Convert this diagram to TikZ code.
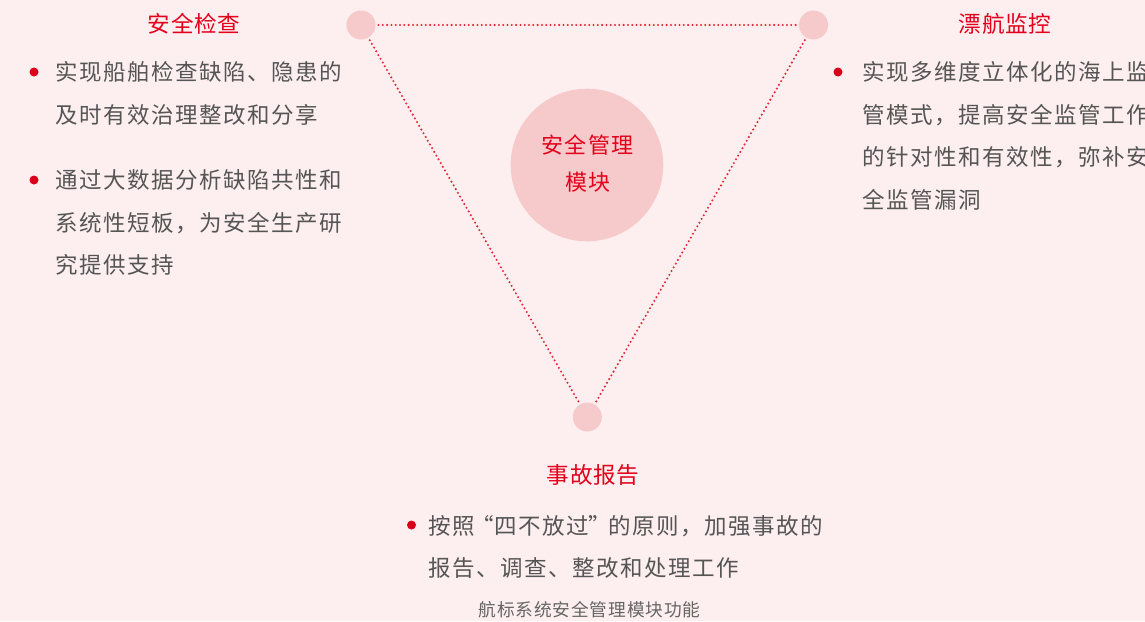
\documentclass[tikz,border=0pt]{standalone}
\usepackage{fontspec}
\setmainfont{Noto Sans CJK SC}
\newfontfamily\cjkbody[LetterSpace=6.7]{Noto Sans CJK SC}
\newfontfamily\cjktitle[LetterSpace=3]{Noto Sans CJK SC}
\newfontfamily\cjkcap[LetterSpace=5]{Noto Sans CJK SC}
\definecolor{bg}{HTML}{FDEEF0}
\definecolor{knotpink}{HTML}{F6CACA}
\definecolor{ttlred}{HTML}{E3001B}
\definecolor{bulred}{HTML}{D9001B}
\definecolor{linkred}{HTML}{E32A36}
\definecolor{txtgray}{HTML}{555555}
\definecolor{capgray}{HTML}{656565}
\tikzset{
  body/.style={font=\cjkbody\fontsize{22.5}{26}\selectfont, text=txtgray, anchor=base west, inner sep=0pt},
  ttl/.style={font=\cjktitle\fontsize{22.6}{26}\selectfont, text=ttlred, anchor=base, inner sep=0pt},
  hub/.style={font=\cjkbody\fontsize{22}{26}\selectfont, text=ttlred, anchor=base, inner sep=0pt},
  captxt/.style={font=\cjkcap\fontsize{17.7}{20}\selectfont, text=capgray, anchor=base, inner sep=0pt},
  bul/.style={circle, fill=bulred, minimum size=9pt, inner sep=0pt},
  knot/.style={circle, fill=knotpink, minimum size=29pt, inner sep=0pt, outer sep=3pt},
  bigknot/.style={circle, fill=knotpink, minimum size=152.6pt, inner sep=0pt},
  link/.style={draw=linkred, line width=2.3pt, line cap=round, dash pattern=on 0pt off 4.3pt}
}
\begin{document}
\begin{tikzpicture}[x=1pt,y=-1pt]
\fill[bg] (0,0) rectangle (1145,621);
\useasboundingbox (0,0) rectangle (1145,621);
% knots
\node[knot] (k1) at (361,25) {};
\node[knot] (k2) at (813.5,25) {};
\node[knot] (k3) at (587.3,417) {};
\draw[link] (k1) -- (k2);
\draw[link] (k1) -- (k3);
\draw[link] (k2) -- (k3);
% hub
\node[bigknot] (hub) at (587,165) {};
\node[hub] (hub1) at (587.5,153.4) {安全管理};
\node[hub] (hub2) at (588,190.4) {模块};
% left block
\node[ttl] (t1) at (194,32.5) {安全检查};
\node[bul] (b1) at (34,72) {};
\node[body] (l11) at (55,80.6) {实现船舶检查缺陷、隐患的};
\node[body] (l12) at (55,123.1) {及时有效治理整改和分享};
\node[bul] (b2) at (34,180) {};
\node[body] (l21) at (55,188.6) {通过大数据分析缺陷共性和};
\node[body] (l22) at (55,231.1) {系统性短板，为安全生产研};
\node[body] (l23) at (55,273.6) {究提供支持};
% right block
\node[ttl] (t2) at (1005,32.5) {漂航监控};
\node[bul] (b3) at (838,72) {};
\node[body] (r1) at (862,80.6) {实现多维度立体化的海上监};
\node[body] (r2) at (862,123.1) {管模式，提高安全监管工作};
\node[body] (r3) at (862,165.6) {的针对性和有效性，弥补安};
\node[body] (r4) at (862,208.1) {全监管漏洞};
% bottom block
\node[ttl] (t3) at (593,483.5) {事故报告};
\node[bul] (b4) at (411.5,525) {};
\node[body] (m1) at (428,534.6) {按照\makebox[19.5pt][r]{“}四不放过\makebox[19.5pt][l]{”}的原则，加强事故的};
\node[body] (m2) at (428,576.6) {报告、调查、整改和处理工作};
% caption
\node[captxt] (capt) at (589.5,616.7) {航标系统安全管理模块功能};
\end{tikzpicture}
\end{document}
